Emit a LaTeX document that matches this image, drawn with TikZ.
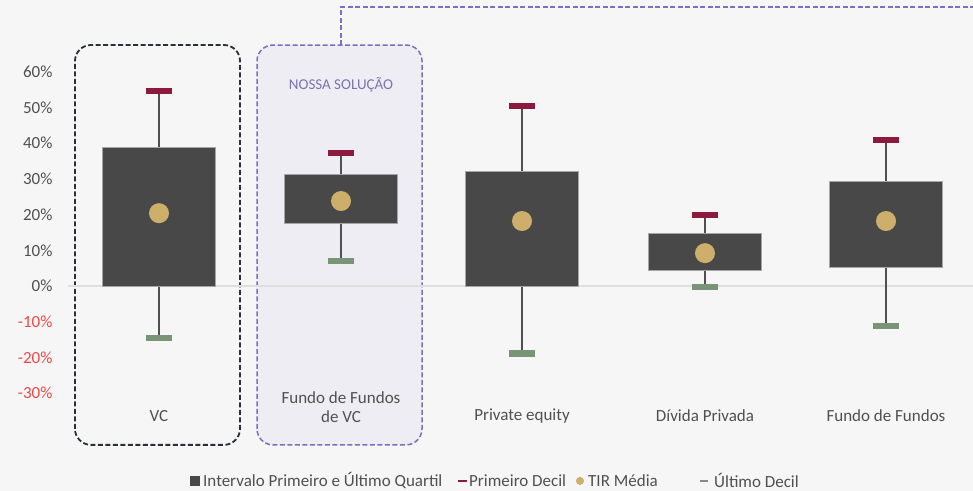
\documentclass[tikz,border=0pt]{standalone}
\usepackage{fontspec}
\setmainfont{Carlito}
\usetikzlibrary{positioning}
\definecolor{BgGray}{HTML}{F6F6F6}
\definecolor{BoxGray}{HTML}{484848}
\definecolor{Wine}{HTML}{8B1A3E}
\definecolor{Sage}{HTML}{7A9478}
\definecolor{Gold}{HTML}{CDAE6B}
\definecolor{Lilac}{HTML}{7B6FC0}
\definecolor{LilacBg}{HTML}{EFEDF4}
\definecolor{Ink}{HTML}{2B2F3A}
\definecolor{AxisRed}{HTML}{F04848}
\definecolor{TextGray}{HTML}{505050}
\tikzset{
  whisker/.style={draw=TextGray,line width=1.8pt},
  quartil/.style={fill=BoxGray,draw=gray!70,line width=0.8pt},
  tir/.style={fill=Gold},
  frame/.style={dash pattern=on 5pt off 2.5pt,rounded corners=16pt},
  cat/.style={font=\fontsize{17}{19}\selectfont,text=TextGray,align=center},
  tick/.style={font=\fontsize{17}{19}\selectfont,anchor=east,text=TextGray},
  legtxt/.style={font=\fontsize{17}{19}\selectfont,text=TextGray,anchor=west,inner sep=0pt}
}
\begin{document}
\begin{tikzpicture}[x=1pt,y=3.57pt]
  \useasboundingbox[fill=BgGray] (0,-57.42) rectangle (973,80.11);
  % highlight frames
  \draw[frame,Lilac,line width=1.5pt,fill=LilacBg] (257,-44.5) rectangle (422,67.5);
  \draw[frame,Ink,line width=1.8pt] (75,-44.5) rectangle (240,67.5);
  \draw[Lilac,dash pattern=on 5pt off 2.5pt,line width=1.5pt] (341,67.5) -- (341,78.15) -- (973,78.15);
  \node[font=\fontsize{15}{17}\selectfont,text=Lilac!75!gray] (nossa) at (341,56.3) {NOSSA SOLUÇÃO};
  % zero line and axis
  \draw[gray!25,line width=1.5pt] (68,0) -- (973,0);
  \foreach \p in {60,50,...,0}
    \node[tick] at (56,\p) {\p\%};
  \foreach \p in {-10,-20,-30}
    \node[tick,text=AxisRed] at (56,\p) {\p\%};
  % boxes: x / lower quartile / upper quartile / last decile / first decile / mean
  \foreach \x/\qlo/\qhi/\dlo/\dhi/\m in {159/0/38.7/-14.5/54.5/20.4, 341/17.4/31.3/7.1/37.2/23.8,
      522/0/32/-18.9/50.5/18.2, 705/4.5/14.8/-0.2/20/9.2, 886/5.3/29.4/-11.3/41/18.2}{
    \draw[whisker] (\x,\dlo) -- (\x,\dhi);
    \filldraw[quartil] (\x-56.5,\qlo) rectangle (\x+56.5,\qhi);
    \fill[Wine] (\x-13,\dhi-0.85) rectangle (\x+13,\dhi+0.85);
    \fill[Sage] (\x-13,\dlo-0.85) rectangle (\x+13,\dlo+0.85);
    \fill[tir] (\x,\m) circle (10pt);
  }
  % categories
  \node[cat] (vc) at (159,-36.4) {VC};
  \node[cat] (ffvc) at (341,-33.9) {Fundo de Fundos\\de VC};
  \node[cat] (pe) at (522,-36.4) {Private equity};
  \node[cat] (dp) at (705,-36.4) {Dívida Privada};
  \node[cat] (ff) at (886,-36.4) {Fundo de Fundos};
  % legend
  \fill[BoxGray] (190,-56) rectangle (200,-53.2);
  \node[legtxt] (lq) at (203,-54.6) {Intervalo Primeiro e Último Quartil};
  \draw[Wine,line width=2pt] (458,-54.6) -- (467,-54.6);
  \node[legtxt] (ld1) at (469,-54.6) {Primeiro Decil};
  \fill[Gold] (580,-54.6) circle (4pt);
  \node[legtxt] (lt) at (588,-54.6) {TIR Média};
  \draw[Sage,line width=2pt] (700,-54.6) -- (708,-54.6);
  \node[legtxt] (ld9) at (714,-54.6) {Último Decil};
\end{tikzpicture}
\end{document}
